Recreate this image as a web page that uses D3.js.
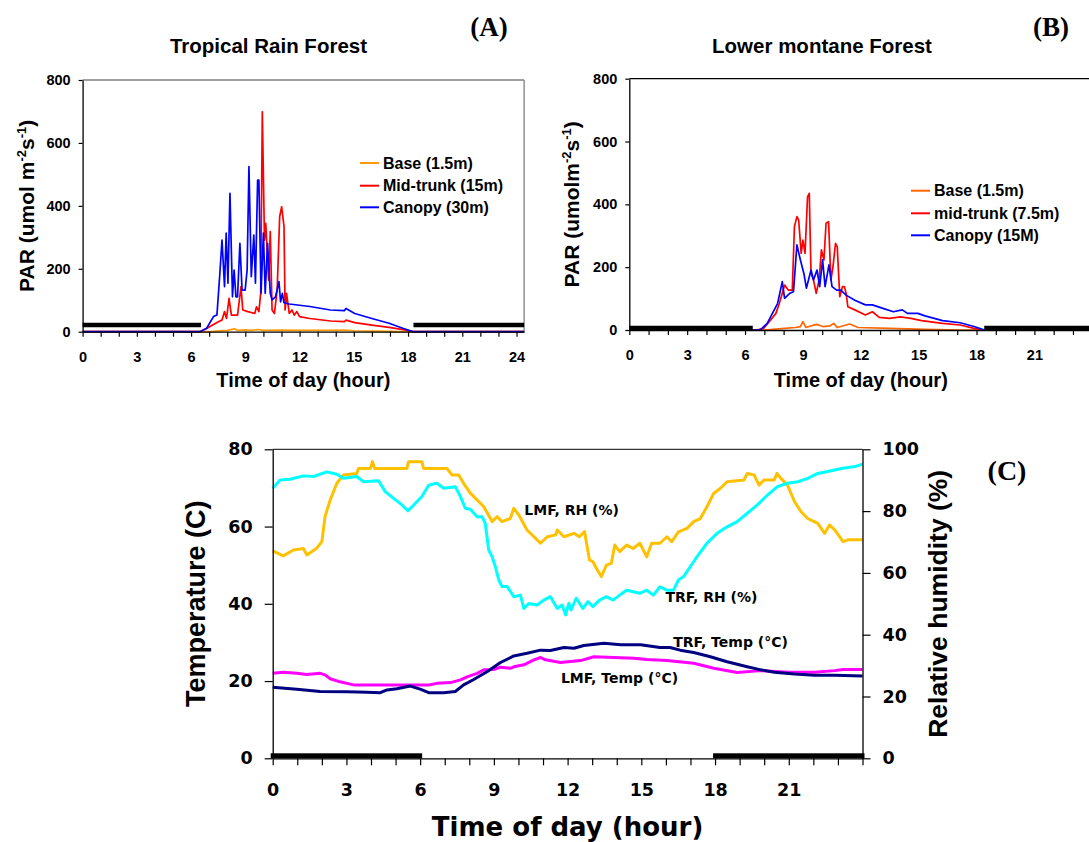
<!DOCTYPE html>
<html>
<head>
<meta charset="utf-8">
<script src="https://cdn.jsdelivr.net/npm/d3@7"></script>
<style>
  body { margin: 0; background: #fff; }
  svg { display: block; font-family: "Liberation Sans", Arial, sans-serif; }
</style>
</head>
<body>
<svg id="chart" width="1089" height="842"></svg>
<script>
// ---------- data ----------
var hourTicks = d3.range(0, 25);
var parTicks = [0, 200, 400, 600, 800];
var tempTicks = [0, 20, 40, 60, 80];
var rhTicks = [0, 20, 40, 60, 80, 100];

// (A) tropical rain forest, PAR [hour, umol m-2 s-1]
var trfBase = [[0,0],[6.6,0],[7.2,1],[8.0,4],[8.4,9],[8.6,4],[9.0,6],[9.3,4],[9.7,7],[10.0,4],[11.0,5],[12.0,4],[13.5,4],[14.5,5],[15.0,3],[16.3,2],[17.5,0],[24.42,0]];
var trfMid = [[0,0],[6.5,0],[6.86,10],[7.43,29],[7.71,37],[7.85,64],[7.96,42],[8.10,106],[8.23,53],[8.57,53],[8.76,143],[8.86,69],[9.14,64],[9.52,58],[9.62,79],[9.75,64],[9.85,122],[9.94,699],[10.06,291],[10.13,344],[10.29,164],[10.38,318],[10.48,69],[10.61,58],[10.76,132],[10.9,366],[11.01,397],[11.14,334],[11.2,69],[11.28,122],[11.43,58],[11.58,69],[11.71,53],[11.85,64],[12.0,48],[12.57,42],[13.71,34],[14.48,32],[14.57,37],[15.05,29],[16.0,21],[16.95,14],[17.9,5],[18.29,0],[24.42,0]];
var trfCanopy = [[0,0],[6.48,0],[6.86,11],[7.24,48],[7.43,53],[7.58,175],[7.71,291],[7.85,143],[7.94,313],[8.04,154],[8.15,440],[8.29,111],[8.38,196],[8.48,111],[8.57,111],[8.70,281],[8.82,132],[8.99,132],[9.10,196],[9.20,525],[9.33,175],[9.47,307],[9.56,154],[9.68,482],[9.75,482],[9.87,122],[10.0,313],[10.1,122],[10.23,281],[10.38,122],[10.48,101],[10.67,111],[10.86,159],[10.95,95],[11.05,122],[11.14,92],[11.43,88],[12.57,80],[13.71,69],[14.48,67],[14.57,74],[15.05,58],[16.0,42],[16.95,27],[17.71,11],[18.29,0],[24.42,0]];
var trfNight = [[0, 6.55], [18.3, 24.42]];

// (B) lower montane forest, PAR [hour, umol m-2 s-1]
var lmfBase = [[0,0],[7.0,0],[8.05,5],[8.6,8],[8.87,11],[9.0,27],[9.15,8],[9.69,18],[10.05,11],[10.4,13],[10.6,21],[10.78,8],[11.42,19],[11.87,8],[13.5,5],[15.33,2],[17.15,0],[24.4,0]];
var lmfMid = [[0,0],[6.6,0],[6.96,5],[7.33,32],[7.6,53],[7.78,85],[7.93,117],[8.05,143],[8.24,127],[8.45,127],[8.56,329],[8.69,361],[8.78,350],[8.91,244],[9.0,286],[9.11,244],[9.24,424],[9.33,435],[9.42,180],[9.55,159],[9.69,117],[9.84,159],[9.96,255],[10.09,223],[10.2,340],[10.33,345],[10.45,159],[10.56,202],[10.69,276],[10.78,265],[10.91,106],[11.05,138],[11.15,138],[11.24,117],[11.33,74],[11.69,64],[12.24,48],[12.6,58],[12.96,40],[13.5,37],[14.05,42],[14.6,37],[15.15,30],[16.24,21],[17.15,16],[17.87,5],[18.33,0],[24.4,0]];
var lmfCanopy = [[0,0],[6.78,0],[7.15,21],[7.69,85],[7.93,154],[8.05,101],[8.33,117],[8.51,122],[8.69,271],[8.87,223],[9.05,180],[9.18,133],[9.42,191],[9.55,159],[9.73,191],[9.87,138],[10.02,223],[10.15,138],[10.35,207],[10.51,138],[10.75,127],[10.96,127],[11.24,111],[11.69,95],[12.24,80],[12.6,80],[13.15,69],[13.69,58],[14.15,64],[14.42,53],[14.96,53],[15.33,45],[16.24,30],[17.15,23],[17.87,11],[18.42,0],[24.4,0]];
var lmfNight = [[0, 6.4], [18.4, 24.4]];

// (C) relative humidity [hour, %] and temperature [hour, C]
var lmfRH = [[0,67.1],[0.43,65.5],[0.84,67.4],[1.25,67.9],[1.39,65.8],[1.79,68.0],[2.0,70.1],[2.13,78.2],[2.34,83.6],[2.61,89.0],[2.88,91.7],[3.42,92.2],[3.49,93.8],[3.97,93.8],[4.06,96.0],[4.15,93.8],[5.46,93.8],[5.53,96.0],[6.07,96.0],[6.14,93.8],[7.09,93.8],[7.3,91.7],[7.57,91.7],[7.77,89.0],[8.04,85.8],[8.38,83.1],[8.59,81.4],[8.93,76.6],[9.13,78.2],[9.33,76.6],[9.67,77.6],[9.81,80.9],[10.01,78.8],[10.35,73.9],[10.76,70.7],[10.9,69.6],[11.17,71.7],[11.51,72.3],[11.58,73.9],[11.85,71.7],[12.26,72.8],[12.48,71.7],[12.69,73.4],[12.89,64.2],[13.03,63.6],[13.17,61.5],[13.37,58.8],[13.58,62.5],[13.78,63.1],[13.92,69.0],[14.12,66.9],[14.4,69.0],[14.67,67.9],[14.94,69.6],[15.22,65.2],[15.42,69.6],[15.76,69.6],[16.04,71.7],[16.24,70.1],[16.51,73.3],[16.86,74.4],[17.13,76.6],[17.4,77.6],[17.67,81.4],[17.95,85.8],[18.22,87.4],[18.49,89.5],[19.18,90.1],[19.31,92.2],[19.59,91.7],[19.79,88.4],[20.0,90.1],[20.41,90.1],[20.52,92.2],[20.68,90.6],[20.95,88.4],[21.23,83.1],[21.5,79.8],[21.77,77.6],[22.18,76.0],[22.46,72.8],[22.66,75.5],[22.87,73.9],[23.21,70.1],[23.41,70.7],[24,70.7]];
var trfRH = [[0,87.4],[0.3,90.1],[0.71,90.3],[1.25,91.4],[1.66,91.2],[2.2,92.7],[2.61,91.9],[2.88,90.6],[3.42,91.2],[3.7,89.5],[4.31,89.8],[4.58,86.3],[4.92,84.1],[5.26,82.0],[5.5,80.1],[5.73,81.9],[6.07,84.7],[6.35,88.4],[6.68,89.0],[6.96,87.4],[7.43,87.9],[7.64,84.7],[7.84,80.9],[8.04,80.6],[8.32,78.2],[8.52,78.2],[8.65,76.0],[8.79,67.4],[8.93,65.2],[9.06,62.0],[9.2,57.7],[9.33,55.6],[9.54,55.6],[9.81,52.3],[10.08,52.8],[10.22,48.5],[10.42,50.1],[10.76,49.6],[11.03,51.2],[11.3,52.3],[11.58,48.5],[11.78,49.6],[11.92,46.4],[12.05,50.2],[12.14,48.0],[12.35,51.8],[12.62,48.5],[12.83,50.7],[13.03,49.1],[13.3,51.2],[13.58,52.3],[13.85,51.2],[14.12,52.8],[14.4,54.4],[14.67,53.9],[14.94,53.4],[15.22,54.4],[15.49,52.8],[15.76,55.5],[16.04,54.4],[16.31,54.4],[16.51,57.7],[16.72,58.8],[16.99,62.0],[17.26,65.2],[17.67,69.6],[18.08,72.8],[18.49,74.9],[18.9,76.6],[19.31,79.3],[19.72,82.0],[20.13,85.2],[20.54,87.9],[20.95,89.0],[21.37,89.5],[21.77,90.6],[22.18,92.2],[22.59,92.8],[23.14,93.8],[23.69,94.4],[24,95.2]];
var trfTemp = [[0,18.4],[0.98,17.9],[1.93,17.3],[3.02,17.2],[3.83,17.1],[4.38,17.0],[4.65,17.7],[5.05,18.0],[5.6,18.7],[6.0,17.9],[6.35,17.0],[6.96,17.0],[7.43,17.3],[7.77,19.0],[8.18,20.4],[8.72,22.4],[9.27,24.8],[9.81,26.5],[10.35,27.2],[10.9,28.0],[11.3,27.9],[11.85,28.7],[12.26,28.5],[12.66,29.2],[13.48,29.8],[14.16,29.4],[14.97,29.4],[15.76,28.7],[16.17,28.7],[16.58,28.0],[17.13,27.4],[17.81,26.3],[18.49,25.0],[19.31,23.7],[19.86,22.9],[20.41,22.3],[21.23,21.8],[22.04,21.5],[22.87,21.5],[24,21.3]];
var lmfTemp = [[0,22.0],[0.43,22.3],[0.98,22.0],[1.39,21.7],[1.93,22.0],[2.13,21.6],[2.34,20.6],[2.74,19.8],[3.29,19.0],[6.35,19.0],[6.68,19.4],[7.24,19.6],[7.64,20.3],[7.91,21.1],[8.32,22.0],[8.59,22.9],[8.99,23.0],[9.27,23.6],[9.67,23.3],[9.81,23.7],[10.22,24.2],[10.63,25.5],[10.9,26.1],[11.1,25.5],[11.71,24.8],[12.53,25.3],[13.07,26.3],[13.89,26.1],[14.7,25.9],[15.22,25.6],[16.04,25.3],[17.13,24.6],[17.95,23.3],[18.9,22.2],[19.86,22.7],[21.0,22.3],[22.04,22.3],[22.87,22.7],[23.21,23.0],[24,23.0]];
var nightC = [[0, 6], [18, 24]];

var svg = d3.select("#chart");
svg.append("rect").attr("width", 1089).attr("height", 842).attr("fill", "#fff");

function styleAxis(g, size, family) {
  g.select(".domain").attr("stroke", "#000").attr("stroke-width", 1.3);
  g.selectAll(".tick line").attr("stroke", "#000").attr("stroke-width", 1.2);
  g.selectAll(".tick text")
    .attr("fill", "#000")
    .style("font-size", size + "px")
    .style("font-weight", "bold")
    .style("font-family", family);
}

// ---------- PAR panels (A) and (B) ----------
function parPanel(cfg) {
  var x = d3.scaleLinear().domain([0, cfg.xMax]).range([cfg.left, cfg.left + cfg.xMax * cfg.hourPx]);
  var y = d3.scaleLinear().domain([0, 800]).range([cfg.bottom, cfg.top]);
  var g = svg.append("g");
  var fam = "'Liberation Sans', Arial, sans-serif";

  // box top / right
  g.append("line").attr("x1", x(0)).attr("x2", x(cfg.xMax)).attr("y1", y(800)).attr("y2", y(800))
    .attr("stroke", cfg.boxColor).attr("stroke-width", 1.3);
  if (cfg.rightBorder) {
    g.append("line").attr("x1", x(cfg.xMax)).attr("x2", x(cfg.xMax)).attr("y1", y(800)).attr("y2", y(0))
      .attr("stroke", cfg.boxColor).attr("stroke-width", 1.3);
  }

  var line = d3.line().x(function(d) { return x(d[0]); }).y(function(d) { return y(d[1]); });

  cfg.series.forEach(function(s) {
    g.append("path").datum(s.data).attr("d", line)
      .attr("fill", "none").attr("stroke", s.color).attr("stroke-width", 1.7)
      .attr("stroke-linejoin", "round");
  });

  // night bars
  g.selectAll(".night").data(cfg.night).enter().append("line")
    .attr("x1", function(d) { return x(d[0]); })
    .attr("x2", function(d) { return x(d[1]); })
    .attr("y1", y(cfg.nightLevel)).attr("y2", y(cfg.nightLevel))
    .attr("stroke", "#000").attr("stroke-width", 4.5);

  var xa = g.append("g").attr("transform", "translate(0," + y(0) + ")")
    .call(d3.axisBottom(x).tickValues(hourTicks).tickSize(5).tickSizeOuter(0).tickPadding(15)
      .tickFormat(function(d) { return cfg.labels.indexOf(d) >= 0 ? d : ""; }));
  styleAxis(xa, 14.5, fam);

  var ya = g.append("g").attr("transform", "translate(" + x(0) + ",0)")
    .call(d3.axisLeft(y).tickValues(parTicks).tickSize(4).tickSizeOuter(0).tickPadding(8));
  styleAxis(ya, 14.5, fam);

  // titles
  g.append("text").attr("x", cfg.titleX).attr("y", 53).attr("text-anchor", "middle")
    .style("font-size", "20.5px").style("font-weight", "bold").text(cfg.title);
  g.append("text").attr("x", cfg.tagX).attr("y", 36).attr("text-anchor", "middle")
    .style("font-family", "'Liberation Serif', 'Times New Roman', serif")
    .style("font-size", "27px").style("font-weight", "bold").text(cfg.tag);

  g.append("text").attr("x", (x(0) + x(cfg.xMax > 24.41 ? cfg.xMax : 24)) / 2 + cfg.xTitleShift).attr("y", 387)
    .attr("text-anchor", "middle").style("font-size", "20px").style("font-weight", "bold")
    .text("Time of day (hour)");

  var yt = g.append("text")
    .attr("transform", "translate(" + cfg.yTitleX + "," + (y(400)) + ") rotate(-90)")
    .attr("text-anchor", "middle").style("font-size", "21px").style("font-weight", "bold");
  yt.append("tspan").text(cfg.unitA);
  yt.append("tspan").attr("dy", -8).style("font-size", "13px").text("-2");
  yt.append("tspan").attr("dy", 8).text("s");
  yt.append("tspan").attr("dy", -8).style("font-size", "13px").text("-1");
  yt.append("tspan").attr("dy", 8).text(")");

  // legend
  cfg.series.forEach(function(s, i) {
    var ly = cfg.legendY[i];
    g.append("line").attr("x1", cfg.legendX).attr("x2", cfg.legendX + 19).attr("y1", ly).attr("y2", ly)
      .attr("stroke", s.color).attr("stroke-width", 2);
    g.append("text").attr("x", cfg.legendX + 23).attr("y", ly + 5.5)
      .style("font-size", "16px").style("font-weight", "bold").text(s.name);
  });
}

parPanel({
  left: 82.6, hourPx: 18.08, xMax: 24.42, top: 80, bottom: 331.7,
  boxColor: "#808080", rightBorder: true,
  labels: [0, 3, 6, 9, 12, 15, 18, 21, 24],
  series: [
    { name: "Base (1.5m)", color: "#FF9900", data: trfBase },
    { name: "Mid-trunk (15m)", color: "#FF0000", data: trfMid },
    { name: "Canopy (30m)", color: "#0000FF", data: trfCanopy }
  ],
  night: trfNight, nightLevel: 21,
  title: "Tropical Rain Forest", titleX: 268.5, tag: "(A)", tagX: 489,
  xTitleShift: 0, yTitleX: 34, unitA: "PAR (umol m",
  legendX: 360, legendY: [163, 185.7, 207.3]
});

parPanel({
  left: 629.3, hourPx: 19.29, xMax: 24.4, top: 78.7, bottom: 330,
  boxColor: "#000", rightBorder: false,
  labels: [0, 3, 6, 9, 12, 15, 18, 21],
  series: [
    { name: "Base (1.5m)", color: "#FF6600", data: lmfBase },
    { name: "mid-trunk (7.5m)", color: "#FF0000", data: lmfMid },
    { name: "Canopy (15M)", color: "#0000FF", data: lmfCanopy }
  ],
  night: lmfNight, nightLevel: 6,
  title: "Lower montane Forest", titleX: 822, tag: "(B)", tagX: 1051,
  xTitleShift: 0, yTitleX: 579, unitA: "PAR (umolm",
  legendX: 911, legendY: [190.7, 213.3, 235.3]
});

// ---------- panel (C) ----------
(function() {
  var x = d3.scaleLinear().domain([0, 24]).range([272.7, 862.5]);
  var yT = d3.scaleLinear().domain([0, 80]).range([758.3, 449.3]);
  var yH = d3.scaleLinear().domain([0, 100]).range([758.3, 449.3]);
  var g = svg.append("g");
  var fam = "'DejaVu Sans', sans-serif";

  g.append("line").attr("x1", x(0)).attr("x2", x(24)).attr("y1", yT(80)).attr("y2", yT(80))
    .attr("stroke", "#000").attr("stroke-width", 1);

  var lineH = d3.line().x(function(d) { return x(d[0]); }).y(function(d) { return yH(d[1]); });
  var lineT = d3.line().x(function(d) { return x(d[0]); }).y(function(d) { return yT(d[1]); });

  var series = [
    { data: lmfRH, color: "#FFC000", line: lineH },
    { data: trfRH, color: "#00FFFF", line: lineH },
    { data: lmfTemp, color: "#FF00FF", line: lineT },
    { data: trfTemp, color: "#000080", line: lineT }
  ];
  series.forEach(function(s) {
    g.append("path").datum(s.data).attr("d", s.line)
      .attr("fill", "none").attr("stroke", s.color).attr("stroke-width", 3)
      .attr("stroke-linejoin", "round");
  });

  g.selectAll(".nightC").data(nightC).enter().append("rect")
    .attr("x", function(d) { return x(d[0]) - 2; })
    .attr("width", function(d) { return x(d[1]) - x(d[0]) + 4; })
    .attr("y", yT(0) - 5).attr("height", 5).attr("fill", "#000");

  var xa = g.append("g").attr("transform", "translate(0," + yT(0) + ")")
    .call(d3.axisBottom(x).tickValues(hourTicks).tickSize(7).tickSizeOuter(0).tickPadding(18)
      .tickFormat(function(d) { return (d % 3 === 0 && d < 24) ? d : ""; }));
  styleAxis(xa, 17.5, fam);

  var yl = g.append("g").attr("transform", "translate(" + x(0) + ",0)")
    .call(d3.axisLeft(yT).tickValues(tempTicks).tickSize(8).tickSizeOuter(0).tickPadding(12));
  styleAxis(yl, 17.5, fam);

  var yr = g.append("g").attr("transform", "translate(" + x(24) + ",0)")
    .call(d3.axisRight(yH).tickValues(rhTicks).tickSize(8).tickSizeOuter(0).tickPadding(12));
  styleAxis(yr, 17.5, fam);

  g.append("text").attr("x", (x(0) + x(24)) / 2).attr("y", 836).attr("text-anchor", "middle")
    .style("font-family", fam).style("font-size", "26px").style("font-weight", "bold")
    .text("Time of day (hour)");

  g.append("text").attr("transform", "translate(205," + yT(40) + ") rotate(-90)")
    .attr("text-anchor", "middle").style("font-size", "27px").style("font-weight", "bold")
    .text("Temperature (C)");
  g.append("text").attr("transform", "translate(947," + yT(40) + ") rotate(-90)")
    .attr("text-anchor", "middle").style("font-size", "26.5px").style("font-weight", "bold")
    .text("Relative humidity (%)");

  g.append("text").attr("x", 1007).attr("y", 480).attr("text-anchor", "middle")
    .style("font-family", "'Liberation Serif', 'Times New Roman', serif")
    .style("font-size", "28px").style("font-weight", "bold").text("(C)");

  var notes = [
    { text: "LMF, RH (%)", h: 10.24, v: 78.7, s: yH },
    { text: "TRF, RH (%)", h: 15.98, v: 50.5, s: yH },
    { text: "TRF, Temp (\u00B0C)", h: 16.3, v: 28.7, s: yT },
    { text: "LMF, Temp (\u00B0C)", h: 11.73, v: 19.5, s: yT }
  ];
  notes.forEach(function(n) {
    g.append("text").attr("x", x(n.h)).attr("y", n.s(n.v))
      .style("font-family", fam).style("font-size", "14px").style("font-weight", "bold")
      .text(n.text);
  });
})();
</script>
</body>
</html>
